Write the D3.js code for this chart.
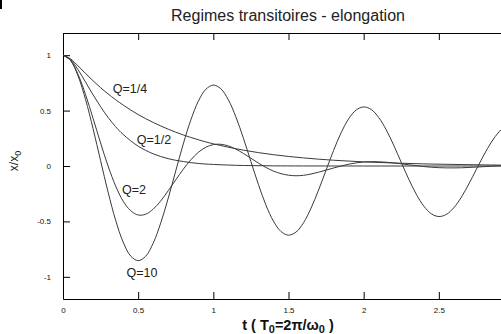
<!DOCTYPE html>
<html>
<head>
<meta charset="utf-8">
<script src="https://cdn.jsdelivr.net/npm/d3@7"></script>
<style>
	body { margin: 0; background: #fff; }
	svg { display: block; font-family: 'Liberation Sans', Arial, sans-serif; }
	.curve { fill: none; stroke: #3a3a3a; stroke-width: 1; }
	.axis path, .axis line { stroke: #000; }
	.axis text { font-size: 8px; fill: #111; }
</style>
</head>
<body>
<svg id="chart"></svg>
<script>
// time samples, in units of T0
const tFine = [
	0, 0.05, 0.1, 0.15, 0.2, 0.25, 0.3, 0.35, 0.4, 0.45,
	0.5, 0.55, 0.6, 0.65, 0.7, 0.75, 0.8, 0.85, 0.9, 0.95,
	1, 1.05, 1.1, 1.15, 1.2, 1.25, 1.3, 1.35, 1.4, 1.45,
	1.5, 1.55, 1.6, 1.65, 1.7, 1.75, 1.8, 1.85, 1.9, 1.95,
	2, 2.05, 2.1, 2.15, 2.2, 2.25, 2.3, 2.35, 2.4, 2.45,
	2.5, 2.55, 2.6, 2.65, 2.7, 2.75, 2.8, 2.85, 2.9, 2.95, 3,
];

const q10 = [
	1, 0.952, 0.813, 0.600, 0.336, 0.048, -0.236, -0.489, -0.686, -0.812,
	-0.854, -0.814, -0.696, -0.515, -0.290, -0.044, 0.199, 0.414, 0.584, 0.692,
	0.730, 0.697, 0.597, 0.443, 0.251, 0.040, -0.167, -0.353, -0.498, -0.591,
	-0.624, -0.596, -0.512, -0.380, -0.217, -0.037, 0.141, 0.300, 0.425, 0.505,
	0.533, 0.510, 0.438, 0.327, 0.187, 0.033, -0.119, -0.255, -0.362, -0.431,
	-0.456, -0.437, -0.376, -0.281, -0.161, -0.030, 0.100, 0.216, 0.308, 0.368, 0.390,
];

const q2 = [
	1, 0.954, 0.827, 0.644, 0.430, 0.208, -0.001, -0.180, -0.317, -0.403,
	-0.442, -0.435, -0.389, -0.315, -0.223, -0.125, -0.029, 0.055, 0.123, 0.169,
	0.193, 0.196, 0.181, 0.152, 0.113, 0.070, 0.026, -0.013, -0.046, -0.069,
	-0.083, -0.088, -0.084, -0.072, -0.056, -0.037, -0.018, 0.000, 0.016, 0.028,
	0.036, 0.039, 0.038, 0.034, 0.028, 0.020, 0.011, 0.003, -0.005, -0.011,
	-0.015, -0.017, -0.017, -0.016, -0.013, -0.010, -0.006, -0.002, 0.001, 0.004, 0.006,
];

const tQuarter = [ 0, 0.05, 0.1, 0.15, 0.2, 0.25, 0.3, 0.4, 0.5, 0.6, 0.7, 0.8, 0.9, 1, 1.2, 1.4, 1.6, 1.8, 2, 2.2, 2.4, 2.6, 2.8, 3 ];
const qQuarter = [ 1, 0.967, 0.903, 0.835, 0.769, 0.707, 0.650, 0.550, 0.464, 0.393, 0.332, 0.280, 0.237, 0.200, 0.143, 0.102, 0.073, 0.052, 0.037, 0.027, 0.019, 0.014, 0.010, 0.007 ];

const tHalf = [ 0, 0.05, 0.1, 0.15, 0.2, 0.25, 0.3, 0.35, 0.4, 0.5, 0.6, 0.7, 0.8, 0.9, 1, 1.2, 1.4, 1.6, 2, 2.5, 3 ];
const qHalf = [ 1, 0.960, 0.869, 0.757, 0.642, 0.535, 0.438, 0.355, 0.285, 0.179, 0.110, 0.066, 0.040, 0.023, 0.014, 0.0045, 0.0014, 0.0004, 0, 0, 0 ];

// label text and where it sits, in data units
const curveLabels = [ 'Q=1/4', 'Q=1/2', 'Q=2', 'Q=10' ];
const labelT = [ 0.445, 0.605, 0.472, 0.525 ];
const labelV = [ 0.70, 0.235, -0.217, -0.966 ];

const xTicks = [ 0, 0.5, 1, 1.5, 2, 2.5 ];
const yTicks = [ -1, -0.5, 0, 0.5, 1 ];

const width = 501;
const height = 334;
const margin = { top: 33, right: -13, bottom: 35, left: 63 };

const svg = d3.select( '#chart' )
	.attr( 'width', width )
	.attr( 'height', height );

// little mark in the upper left corner of the scan
svg.append( 'rect' )
	.attr( 'x', 0 ).attr( 'y', 0 )
	.attr( 'width', 2 ).attr( 'height', 9 )
	.attr( 'fill', '#000' );

const innerW = width - margin.left - margin.right;
const innerH = height - margin.top - margin.bottom;

const g = svg.append( 'g' )
	.attr( 'transform', `translate(${ margin.left },${ margin.top })` );

// x runs to 3, the right part is cropped by the window
const x = d3.scaleLinear().domain( [ 0, 3 ] ).range( [ 0, innerW ] );
const y = d3.scaleLinear().domain( [ -1.2, 1.2 ] ).range( [ innerH, 0 ] );

const fmt = ( d ) => String( d );

g.append( 'g' )
	.attr( 'class', 'axis' )
	.attr( 'transform', `translate(0,${ innerH })` )
	.call( d3.axisBottom( x ).tickValues( xTicks ).tickFormat( fmt ).tickSizeInner( -7 ).tickSizeOuter( 0 ).tickPadding( 8 ) );

g.append( 'g' )
	.attr( 'class', 'axis' )
	.call( d3.axisTop( x ).tickValues( xTicks ).tickFormat( '' ).tickSizeInner( -7 ).tickSizeOuter( 0 ) );

g.append( 'g' )
	.attr( 'class', 'axis' )
	.call( d3.axisLeft( y ).tickValues( yTicks ).tickFormat( fmt ).tickSizeInner( -7 ).tickSizeOuter( 0 ).tickPadding( 12 ) );

const line = d3.line()
	.x( ( d ) => x( d[ 0 ] ) )
	.y( ( d ) => y( d[ 1 ] ) )
	.curve( d3.curveCatmullRom.alpha( 0.5 ) );

const series = [
	d3.zip( tQuarter, qQuarter ),
	d3.zip( tHalf, qHalf ),
	d3.zip( tFine, q2 ),
	d3.zip( tFine, q10 ),
];

g.selectAll( '.curve' )
	.data( series )
	.join( 'path' )
	.attr( 'class', 'curve' )
	.attr( 'd', line );

g.selectAll( '.qlabel' )
	.data( curveLabels )
	.join( 'text' )
	.attr( 'class', 'qlabel' )
	.attr( 'x', ( d, i ) => x( labelT[ i ] ) )
	.attr( 'y', ( d, i ) => y( labelV[ i ] ) )
	.attr( 'dy', '0.35em' )
	.attr( 'text-anchor', 'middle' )
	.style( 'font-size', '12.5px' )
	.attr( 'fill', '#222' )
	.text( ( d ) => d );

// title
svg.append( 'text' )
	.attr( 'x', 288 )
	.attr( 'y', 21 )
	.attr( 'text-anchor', 'middle' )
	.style( 'font-size', '16px' )
	.attr( 'fill', '#222' )
	.text( 'Regimes transitoires - elongation' );

// x axis title
const xt = svg.append( 'text' )
	.attr( 'x', 288 )
	.attr( 'y', 330 )
	.attr( 'text-anchor', 'middle' )
	.style( 'font-size', '14.5px' )
	.style( 'font-weight', 'bold' )
	.attr( 'fill', '#111' );
xt.append( 'tspan' ).text( 't ( T' );
xt.append( 'tspan' ).attr( 'dy', 3 ).style( 'font-size', '11px' ).text( '0' );
xt.append( 'tspan' ).attr( 'dy', -3 ).text( '=2π/ω' );
xt.append( 'tspan' ).attr( 'dy', 3 ).style( 'font-size', '11px' ).text( '0' );
xt.append( 'tspan' ).attr( 'dy', -3 ).text( ' )' );

// y axis title
const yt = svg.append( 'text' )
	.attr( 'transform', 'translate(18,161) rotate(-90)' )
	.attr( 'text-anchor', 'middle' )
	.style( 'font-size', '12px' )
	.attr( 'fill', '#111' );
yt.append( 'tspan' ).text( 'x/x' );
yt.append( 'tspan' ).attr( 'dy', 3 ).style( 'font-size', '9px' ).text( '0' );
</script>
</body>
</html>
